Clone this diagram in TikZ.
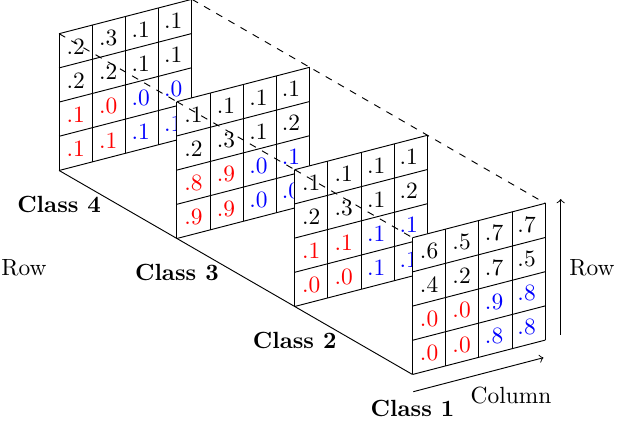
\documentclass[tikz,border=0pt]{standalone}
\usetikzlibrary{calc}
\begin{document}
\begin{tikzpicture}[x=0.42735pt,y=-0.42735pt,
  entry/.style={inner sep=0pt},
  classlabel/.style={font=\bfseries},
  axislabel/.style={},
  guide/.style={dashed}]
\useasboundingbox (0,0) rectangle (630,428);

% corners of the four slices (column step (33.2,-8.6), row step (0,34.2))
\foreach \k/\x/\y in {1/412.5/237.7, 2/294.7/169.7, 3/176.9/101.7, 4/59.1/33.7} {
  \coordinate (tl\k) at (\x,\y);
  \coordinate (tr\k) at (\x+132.8,\y-34.4);
  \coordinate (bl\k) at (\x,\y+136.8);
}

% one 4x4 slice: #1 name, #2 class index, #3 the sixteen entries row by row
\newcommand\drawclass[3]{%
  \begin{scope}[shift={(tl#2)}]
    \fill[white] (0,0) -- (132.8,-34.4) -- (132.8,102.4) -- (0,136.8) -- cycle;
    \foreach \i in {0,...,4}
      \draw (33.2*\i,-8.6*\i) -- (33.2*\i,136.8-8.6*\i);
    \foreach \j in {0,...,4}
      \draw (0,34.2*\j) -- (132.8,34.2*\j-34.4);
    \foreach \v [count=\n from 0] in {#3} {
      \pgfmathtruncatemacro\col{mod(\n,4)}
      \pgfmathtruncatemacro\row{div(\n,4)}
      \ifnum\row<2 \def\tint{black}\else\ifnum\col<2 \def\tint{red}\else\def\tint{blue}\fi\fi
      \node[entry,text=\tint] (#1-\row-\col)
        at ({16.6+32.5*\col},{34.2*(\row+0.5)-8.6*(\col+0.5)}) {\v};
    }
  \end{scope}}

\drawclass{c4}{4}{.2,.3,.1,.1,.2,.2,.1,.1,.1,.0,.0,.0,.1,.1,.1,.1}
\draw[guide] (tl4) -- (tl3);
\drawclass{c3}{3}{.1,.1,.1,.1,.2,.3,.1,.2,.8,.9,.0,.1,.9,.9,.0,.0}
\draw[guide] (tl3) -- (tl2);
\drawclass{c2}{2}{.1,.1,.1,.1,.2,.3,.1,.2,.1,.1,.1,.1,.0,.0,.1,.1}
\draw[guide] (tl2) -- (tl1);
\drawclass{c1}{1}{.6,.5,.7,.7,.4,.2,.7,.5,.0,.0,.9,.8,.0,.0,.8,.8}

% edges running through the stack
\draw[guide] (tr4) -- (tr1);
\draw (bl4) -- (bl1);

% class names
\foreach \k in {1,...,4}
  \node[classlabel] (lab\k) at ($(bl\k)+(0,34)$) {Class \k};

% axes
\coordinate (colS) at (413.3,391.7);
\coordinate (colE) at (543.5,357.7);
\draw[->] (colS) -- (colE);
\node[axislabel] (colL) at (511,396) {Column};
\coordinate (rowS) at (560.7,335);
\coordinate (rowE) at (560.7,199);
\draw[->] (rowS) -- (rowE);
\node[axislabel] (rowR) at (592,268) {Row};
\node[axislabel] (rowL) at (24,268) {Row};
\end{tikzpicture}
\end{document}
